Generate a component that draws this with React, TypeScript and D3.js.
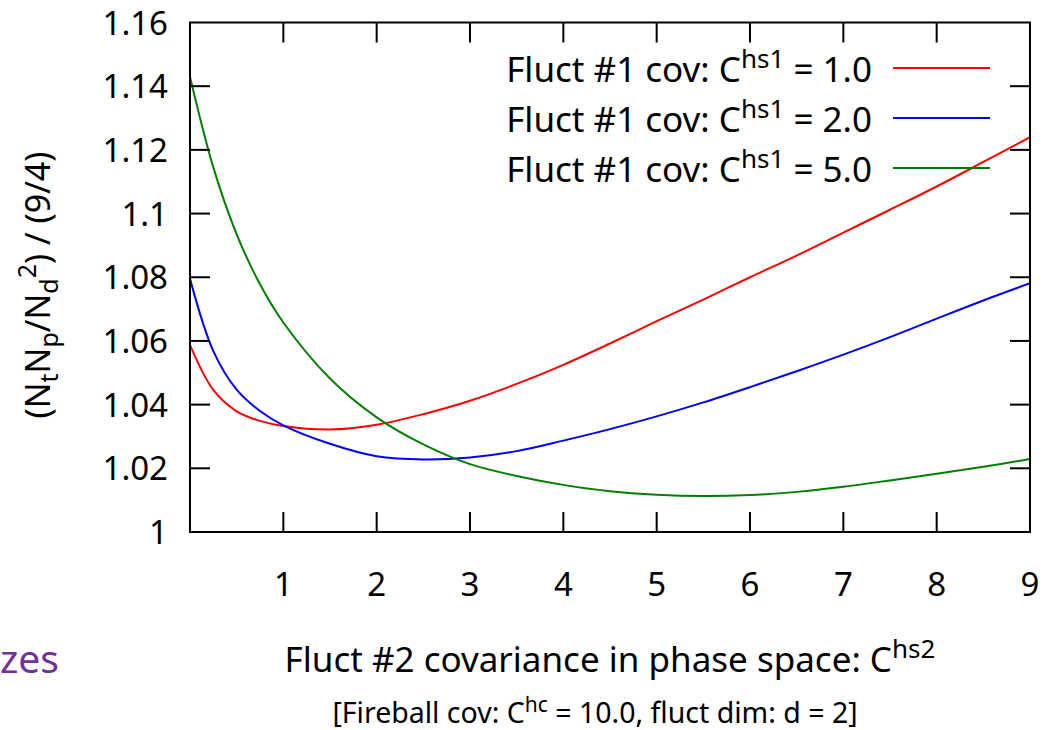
import React from "react";
import * as d3 from "d3";

// Sample grid of the Fluct #2 covariance C^hs2
const xGrid = [0, 0.25, 0.5, 0.75, 1, 1.5, 2, 2.5, 3, 3.5, 4, 4.5, 5, 5.5, 6, 6.5, 7, 7.5, 8, 8.5, 9];

// Normalised ratio (NtNp/Nd^2)/(9/4) for each Fluct #1 covariance
const seriesC1 = [1.0587, 1.0446, 1.0379, 1.0349, 1.0333, 1.0322, 1.0337, 1.037, 1.0412, 1.0465, 1.0525, 1.0592, 1.0662, 1.073, 1.08, 1.0868, 1.094, 1.1012, 1.1085, 1.1162, 1.124];
const seriesC2 = [1.0795, 1.0568, 1.0447, 1.038, 1.0335, 1.0277, 1.0238, 1.0228, 1.0234, 1.0254, 1.0287, 1.0323, 1.0363, 1.0407, 1.0455, 1.0505, 1.0557, 1.0612, 1.067, 1.0727, 1.0781];
const seriesC5 = [1.143, 1.1145, 1.0935, 1.0778, 1.0658, 1.0482, 1.036, 1.0275, 1.0213, 1.0176, 1.0148, 1.0128, 1.0117, 1.0113, 1.0116, 1.0126, 1.0142, 1.0162, 1.0183, 1.0205, 1.0229];

const legendValues = ["1.0", "2.0", "5.0"];
const seriesColors = ["#ff0000", "#0000ff", "#008000"];

const xTicks = [1, 2, 3, 4, 5, 6, 7, 8, 9];
const yTicks = [1, 1.02, 1.04, 1.06, 1.08, 1.1, 1.12, 1.14, 1.16];

const W = 1050;
const H = 730;
const left = 190;
const right = 1030;
const top = 22.5;
const bottom = 532;
const TICK = 20;
const FONT = "'Noto Sans', 'Open Sans', sans-serif";

export default function App() {
  const x = d3.scaleLinear().domain([0, 9]).range([left, right]);
  const y = d3.scaleLinear().domain([1, 1.16]).range([bottom, top]);

  const line = d3
    .line<number>()
    .x((_, i) => x(xGrid[i]))
    .y((d) => y(d))
    .curve(d3.curveCatmullRom.alpha(0.5));

  const allSeries = [seriesC1, seriesC2, seriesC5];
  const fmt = (v: number) => String(+v.toFixed(2));

  return (
    <svg
      width={W}
      height={H}
      viewBox={`0 0 ${W} ${H}`}
      style={{ position: "absolute", left: 0, top: 0, background: "#fff" }}
      fontFamily={FONT}
    >
      <rect x={0} y={0} width={W} height={H} fill="#fff" />

      {/* curves, clipped to the plot frame */}
      <defs>
        <clipPath id="plot-area">
          <rect x={left} y={top} width={right - left} height={bottom - top} />
        </clipPath>
      </defs>
      <g fill="none" strokeWidth={2} clipPath="url(#plot-area)">
        {allSeries.map((s, i) => (
          <path key={i} d={line(s) || ""} stroke={seriesColors[i]} />
        ))}
      </g>

      {/* ticks on all four sides, pointing inward */}
      <g stroke="#000" strokeWidth={2}>
        {xTicks.slice(0, -1).map((t) => (
          <g key={"xt" + t}>
            <line x1={x(t)} x2={x(t)} y1={bottom} y2={bottom - TICK} />
            <line x1={x(t)} x2={x(t)} y1={top} y2={top + TICK} />
          </g>
        ))}
        {yTicks.slice(1, -1).map((t) => (
          <g key={"yt" + t}>
            <line x1={left} x2={left + TICK} y1={y(t)} y2={y(t)} />
            <line x1={right} x2={right - TICK} y1={y(t)} y2={y(t)} />
          </g>
        ))}
      </g>

      {/* border */}
      <rect
        x={left}
        y={top}
        width={right - left}
        height={bottom - top}
        fill="none"
        stroke="#000"
        strokeWidth={2}
      />

      {/* tick labels */}
      <g fontSize={33} fill="#000">
        {xTicks.map((t) => (
          <text key={"xl" + t} x={x(t)} y={596} textAnchor="middle">
            {t}
          </text>
        ))}
        {yTicks.map((t) => (
          <text key={"yl" + t} x={168} y={y(t) + 12} textAnchor="end">
            {fmt(t)}
          </text>
        ))}
      </g>

      {/* legend */}
      <g fontSize={35} fill="#000">
        {legendValues.map((v, i) => {
          const ly = 68 + i * 50;
          return (
            <g key={"lg" + i}>
              <text x={872} y={ly + 14} textAnchor="end">
                <tspan>Fluct #1 cov: C</tspan>
                <tspan dy={-14} fontSize={26}>hs1</tspan>
                <tspan dy={14}> = {v}</tspan>
              </text>
              <line x1={893} x2={990} y1={ly} y2={ly} stroke={seriesColors[i]} strokeWidth={2} />
            </g>
          );
        })}
      </g>

      {/* y axis label */}
      <text
        transform={`translate(50, 285) rotate(-90)`}
        textAnchor="middle"
        fontSize={34}
        fill="#000"
      >
        <tspan>(N</tspan>
        <tspan dy={8} fontSize={25}>t</tspan>
        <tspan dy={-8}>N</tspan>
        <tspan dy={8} fontSize={25}>p</tspan>
        <tspan dy={-8}>/N</tspan>
        <tspan dy={8} fontSize={25}>d</tspan>
        <tspan dy={-22} fontSize={25}>2</tspan>
        <tspan dy={14}>) / (9/4)</tspan>
      </text>

      {/* x axis label */}
      <text x={610} y={672} textAnchor="middle" fontSize={35} fill="#000">
        <tspan>Fluct #2 covariance in phase space: C</tspan>
        <tspan dy={-14} fontSize={26}>hs2</tspan>
      </text>

      {/* run parameters */}
      <text x={595} y={723} textAnchor="middle" fontSize={28.5} fill="#000">
        <tspan>[Fireball cov: C</tspan>
        <tspan dy={-11} fontSize={21}>hc</tspan>
        <tspan dy={11}> = 10.0, fluct dim: d = 2]</tspan>
      </text>

      {/* fragment of surrounding page text */}
      <text x={0} y={673} textAnchor="start" fontSize={39} fill="#7030a0">
        zes
      </text>
    </svg>
  );
}
